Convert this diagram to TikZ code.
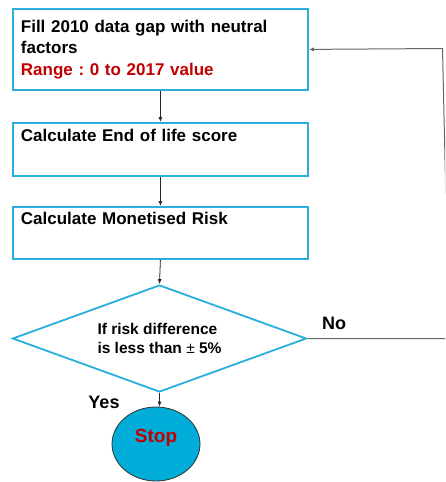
\documentclass[tikz,border=0pt]{standalone}
\usepackage{fontspec}
\setmainfont{Liberation Sans}
\usetikzlibrary{shapes.geometric,arrows.meta}
\definecolor{boxblue}{RGB}{40,175,220}
\definecolor{stopfill}{RGB}{0,173,216}
\definecolor{darkred}{RGB}{192,0,0}
\frenchspacing
\begin{document}
\begin{tikzpicture}[x=1pt,y=-1pt,
  stepbox/.style={draw=boxblue, line width=1.8pt, rectangle, anchor=north west,
    inner xsep=8pt, text width=279pt, align=left,
    font=\bfseries\fontsize{17}{21.7}\selectfont},
  decision/.style={draw=boxblue, line width=1.8pt, diamond, aspect=2.75,
    minimum width=294pt, minimum height=107pt, inner sep=0pt, align=left,
    font=\bfseries\fontsize{15.5}{19}\selectfont},
  stopnode/.style={ellipse, draw=black!80, line width=0.8pt, fill=stopfill,
    minimum width=88pt, minimum height=74pt, inner sep=0pt,
    text height=14pt, text depth=16.4pt, text=darkred,
    font=\bfseries\fontsize{19}{23}\selectfont},
  lbl/.style={font=\bfseries\fontsize{18}{22}\selectfont, inner sep=0pt},
  arr/.style={-{Latex[length=5pt,width=4pt]}, line width=0.8pt, draw=black!85},
  fb/.style={-{Latex[length=5pt,width=4pt]}, line width=1pt, draw=black!60}
]
\useasboundingbox (0,0) rectangle (445,482);
\clip (0,0) rectangle (445,482);

\node[stepbox, minimum height=81pt] (b1) at (12,8)
  {Fill 2010 data gap with neutral\\ factors\\ \textcolor{darkred}{Range : 0 to 2017 value}};
\node[stepbox, minimum height=53pt] (b2) at (12,122)
  {Calculate End of life score\\ \strut};
\node[stepbox, minimum height=52pt] (b3) at (12,206)
  {Calculate Monetised Risk\\ \strut};
\node[decision] (dia) at (159.5,338.5)
  {If risk difference\\ is less than {\mdseries ±} 5\%};
\node[stopnode] (stop) at (156,444) {Stop};

\node[lbl] (yes) at (104,402) {Yes};
\node[lbl] (no) at (334,323) {No};

\coordinate (c1) at (449,338.5);
\coordinate (c2) at (442.5,48.5);

\draw[arr] (b1.south) -- (b2.north);
\draw[arr] (b2.south) -- (b3.north);
\draw[arr] (b3.south) -- (dia.north);
\draw[arr] (dia.south) -- (dia.south |- stop.north);
\draw[fb] (dia.east) -- (c1) -- (c2) -- (b1.east);
\end{tikzpicture}
\end{document}
